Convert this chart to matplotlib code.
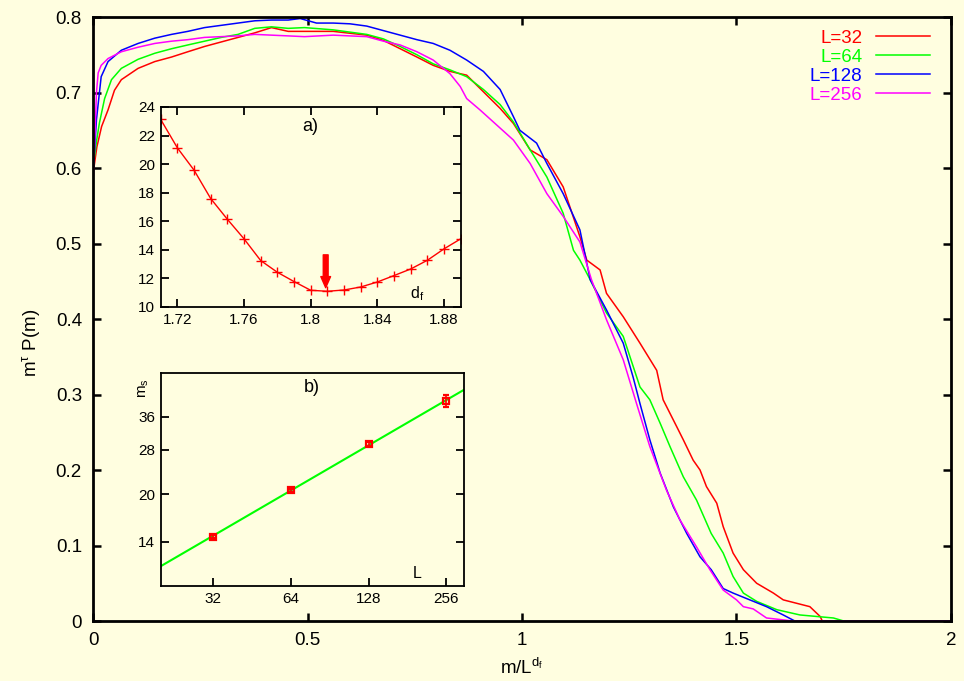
import numpy as np
import matplotlib
matplotlib.use("Agg")
import matplotlib.pyplot as plt
from matplotlib.ticker import FormatStrFormatter, NullLocator, FixedLocator

plt.rcParams['font.family'] = ['Liberation Sans', 'DejaVu Sans']
plt.rcParams['mathtext.default'] = 'regular'

# scaled distributions m^tau P(m) against m/L^df
x32 = [0.002, 0.009, 0.020, 0.035, 0.050, 0.066, 0.105, 0.144, 0.183, 0.221, 0.260, 0.299,
       0.338, 0.377, 0.416, 0.455, 0.493, 0.560, 0.638, 0.677, 0.716, 0.755, 0.793, 0.832,
       0.871, 0.910, 0.949, 0.980, 1.019, 1.058, 1.096, 1.135, 1.151, 1.182, 1.197, 1.236,
       1.275, 1.314, 1.329, 1.361, 1.376, 1.399, 1.415, 1.430, 1.454, 1.469, 1.492, 1.516,
       1.547, 1.586, 1.609, 1.671, 1.695, 1.700, 2.0]
y32 = [0.600, 0.628, 0.655, 0.677, 0.703, 0.717, 0.732, 0.741, 0.747, 0.754, 0.761, 0.767,
       0.773, 0.779, 0.786, 0.781, 0.781, 0.781, 0.776, 0.769, 0.758, 0.747, 0.736, 0.728,
       0.723, 0.701, 0.679, 0.659, 0.624, 0.611, 0.575, 0.509, 0.478, 0.465, 0.434, 0.403,
       0.368, 0.332, 0.293, 0.257, 0.240, 0.213, 0.200, 0.178, 0.156, 0.125, 0.090, 0.068,
       0.050, 0.037, 0.028, 0.019, 0.006, 0.0, 0.0]

x64 = [0.001, 0.008, 0.015, 0.027, 0.043, 0.066, 0.105, 0.144, 0.183, 0.221, 0.260, 0.299,
       0.338, 0.377, 0.416, 0.455, 0.493, 0.560, 0.638, 0.677, 0.716, 0.755, 0.793, 0.832,
       0.871, 0.910, 0.949, 0.980, 1.019, 1.058, 1.096, 1.120, 1.135, 1.159, 1.197, 1.236,
       1.275, 1.298, 1.322, 1.345, 1.376, 1.407, 1.441, 1.469, 1.492, 1.516, 1.547, 1.594,
       1.648, 1.726, 1.750, 2.0]
y64 = [0.605, 0.635, 0.660, 0.692, 0.717, 0.732, 0.744, 0.752, 0.758, 0.763, 0.768, 0.773,
       0.777, 0.785, 0.787, 0.785, 0.786, 0.783, 0.777, 0.771, 0.761, 0.750, 0.738, 0.730,
       0.721, 0.704, 0.684, 0.661, 0.624, 0.588, 0.540, 0.491, 0.478, 0.452, 0.408, 0.377,
       0.310, 0.293, 0.262, 0.231, 0.191, 0.160, 0.116, 0.090, 0.059, 0.037, 0.026, 0.015,
       0.008, 0.004, 0.0, 0.0]

x128 = [0.002, 0.008, 0.019, 0.035, 0.066, 0.105, 0.144, 0.183, 0.221, 0.260, 0.299, 0.338,
        0.377, 0.416, 0.455, 0.483, 0.521, 0.560, 0.599, 0.638, 0.677, 0.716, 0.755, 0.793,
        0.832, 0.871, 0.910, 0.949, 0.980, 0.995, 1.034, 1.058, 1.096, 1.135, 1.159, 1.197,
        1.236, 1.259, 1.275, 1.298, 1.322, 1.353, 1.384, 1.415, 1.441, 1.469, 1.492, 1.531,
        1.570, 1.609, 1.636, 2.0]
y128 = [0.610, 0.664, 0.721, 0.741, 0.756, 0.765, 0.772, 0.777, 0.781, 0.786, 0.789, 0.792,
        0.795, 0.796, 0.796, 0.798, 0.792, 0.792, 0.791, 0.788, 0.782, 0.776, 0.770, 0.765,
        0.756, 0.743, 0.728, 0.704, 0.668, 0.650, 0.633, 0.606, 0.566, 0.518, 0.452, 0.412,
        0.368, 0.323, 0.288, 0.240, 0.196, 0.151, 0.116, 0.085, 0.068, 0.043, 0.037, 0.028,
        0.019, 0.008, 0.0, 0.0]

x256 = [0.0, 0.001, 0.008, 0.012, 0.019, 0.035, 0.066, 0.105, 0.144, 0.183, 0.221, 0.260,
        0.299, 0.338, 0.377, 0.416, 0.455, 0.493, 0.560, 0.638, 0.677, 0.716, 0.755, 0.793,
        0.832, 0.856, 0.871, 0.902, 0.941, 0.980, 1.019, 1.058, 1.096, 1.135, 1.162, 1.197,
        1.236, 1.267, 1.298, 1.337, 1.368, 1.407, 1.438, 1.469, 1.500, 1.516, 1.539, 1.570,
        1.632, 2.0]
y256 = [0.950, 0.590, 0.700, 0.726, 0.736, 0.745, 0.754, 0.760, 0.765, 0.768, 0.770, 0.773,
        0.774, 0.775, 0.777, 0.776, 0.775, 0.774, 0.776, 0.774, 0.768, 0.763, 0.754, 0.743,
        0.725, 0.708, 0.692, 0.677, 0.657, 0.637, 0.606, 0.566, 0.536, 0.502, 0.452, 0.399,
        0.346, 0.288, 0.231, 0.173, 0.134, 0.098, 0.068, 0.041, 0.028, 0.019, 0.016, 0.004,
        0.0, 0.0]

# inset a): quality of the collapse vs d_f
df_vals = [1.71, 1.72, 1.73, 1.74, 1.75, 1.76, 1.77, 1.78, 1.79, 1.80,
           1.81, 1.82, 1.83, 1.84, 1.85, 1.86, 1.87, 1.88, 1.89]
df_cost = [23.13, 21.14, 19.58, 17.59, 16.14, 14.77, 13.25, 12.43, 11.78, 11.17,
           11.10, 11.19, 11.40, 11.75, 12.20, 12.66, 13.27, 14.07, 14.77]
df_best = 1.809

# inset b): cutoff m_s vs L with power-law fit
L_vals = [32, 64, 128, 256]
ms_vals = [14.54, 20.61, 29.3, 40.63]
ms_err = [0.2, 0.2, 0.4, 1.9]
fit_amp, fit_exp = 2.652, 0.493

bg = '#fffee0'
fig = plt.figure(figsize=(9.64, 6.81), dpi=100, facecolor=bg)

ax = fig.add_axes([0.0965, 0.0881, 0.89, 0.8869], facecolor=bg)
ax.plot(x32, y32, color='#ff0000', lw=1.1, label='L=32')
ax.plot(x64, y64, color='#00ff00', lw=1.1, label='L=64')
ax.plot(x128, y128, color='#0000ff', lw=1.1, label='L=128')
ax.plot(x256, y256, color='#ff00ff', lw=1.1, label='L=256')
ax.set_xlim(0, 2)
ax.set_ylim(0, 0.8)
ax.set_xticks([0, 0.5, 1, 1.5, 2])
ax.set_yticks(np.arange(0, 0.81, 0.1))
ax.xaxis.set_major_formatter(FormatStrFormatter('%g'))
ax.yaxis.set_major_formatter(FormatStrFormatter('%g'))
ax.tick_params(direction='in', top=True, right=True, length=6, width=1.8,
               labelsize=13.5, pad=8)
for s in ax.spines.values():
    s.set_linewidth(2)
ax.set_xlabel(r'm/L$^{d_f}$', fontsize=13.5, labelpad=6)
ax.set_ylabel(r'm$^{\tau}$ P(m)', fontsize=13.5)
ax.yaxis.set_label_coords(-0.06, 0.46)
leg = ax.legend(loc='upper right', bbox_to_anchor=(0.9755, 0.979), frameon=False,
                markerfirst=False, fontsize=13.5, labelcolor='linecolor',
                handlelength=2.9, handletextpad=0.7, labelspacing=0.1,
                borderaxespad=0, borderpad=0)

# inset a)
axa = fig.add_axes([0.1667, 0.5492, 0.3112, 0.2937], facecolor=bg)
axa.plot(df_vals, df_cost, color='#ff0000', lw=1, marker='+', ms=7, mew=1)
axa.annotate('', xy=(df_best, 11.35), xytext=(df_best, 13.65),
             arrowprops=dict(facecolor='#ff0000', edgecolor='#ff0000',
                             width=3.5, headwidth=7, headlength=8))
axa.set_xlim(1.71, 1.89)
axa.set_ylim(10, 24)
axa.set_xticks([1.72, 1.76, 1.8, 1.84, 1.88])
axa.set_yticks(range(10, 25, 2))
axa.xaxis.set_major_formatter(FormatStrFormatter('%g'))
axa.tick_params(direction='in', top=True, right=True, length=6, width=1.3,
                labelsize=11, pad=4)
for s in axa.spines.values():
    s.set_linewidth(1.3)
axa.text(1.80, 22.6, 'a)', fontsize=13, ha='center', va='center')
axa.text(1.864, 10.9, r'd$_f$', fontsize=11.5, ha='center', va='center')

# inset b)
axb = fig.add_axes([0.1667, 0.1395, 0.3146, 0.3123], facecolor=bg)
axb.set_xscale('log', base=2)
axb.set_yscale('log')
Lfit = np.array([20, 300])
axb.plot(Lfit, fit_amp * Lfit ** fit_exp, color='#00ff00', lw=1.5)
axb.errorbar(L_vals, ms_vals, yerr=ms_err, fmt='s', ms=4, mfc='none', mec='#ff0000',
             mew=1.6, ecolor='#ff0000', elinewidth=1.2, capsize=2)
axb.set_xlim(20, 300)
axb.set_ylim(10, 50)
axb.xaxis.set_major_locator(FixedLocator(L_vals))
axb.xaxis.set_minor_locator(NullLocator())
axb.xaxis.set_major_formatter(FormatStrFormatter('%d'))
axb.yaxis.set_major_locator(FixedLocator([14, 20, 28, 36]))
axb.yaxis.set_minor_locator(NullLocator())
axb.yaxis.set_major_formatter(FormatStrFormatter('%d'))
axb.tick_params(direction='in', right=True, length=6, width=1.3, labelsize=11, pad=4)
for s in axb.spines.values():
    s.set_linewidth(1.3)
axb.text(77, 44.9, 'b)', fontsize=13, ha='center', va='center')
axb.text(197, 11.0, 'L', fontsize=11.5, ha='center', va='center')
axb.text(-0.055, 0.93, r'm$_s$', fontsize=11, rotation=90, ha='center', va='center',
         transform=axb.transAxes)

fig.savefig('out.png', dpi=100, facecolor=bg)
